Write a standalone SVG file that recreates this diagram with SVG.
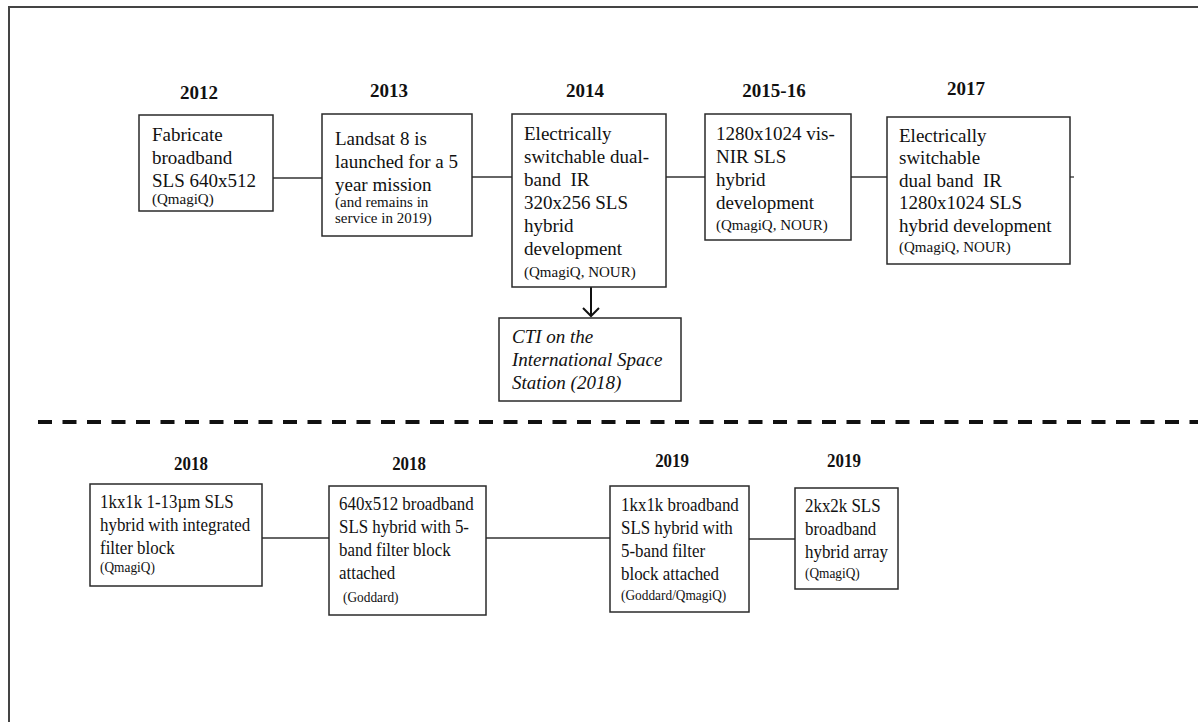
<svg xmlns="http://www.w3.org/2000/svg" width="1198" height="722" viewBox="0 0 1198 722">
<defs>
<style>
.box{fill:#fff;stroke:#2a2a2a;stroke-width:1.5}
.t{font-family:"Liberation Serif","Times New Roman",serif;font-size:19px;fill:#111}
.s{font-family:"Liberation Serif","Times New Roman",serif;font-size:15px;fill:#111}
.i{font-family:"Liberation Serif","Times New Roman",serif;font-size:19px;font-style:italic;fill:#111}
.y{font-family:"Liberation Serif","Times New Roman",serif;font-size:19px;font-weight:bold;fill:#111;text-anchor:middle}
.c{stroke:#333;stroke-width:1.3;fill:none}
</style>
<marker id="arr" markerWidth="20" markerHeight="20" refX="10" refY="10" orient="auto" markerUnits="userSpaceOnUse">
<polyline points="2,2 10,10 2,18" fill="none" stroke="#111" stroke-width="2"/>
</marker>
</defs>
<rect width="1198" height="722" fill="#fff"/>
<path d="M9 722 V7 H1198" fill="none" stroke="#444" stroke-width="2"/>
<line x1="38" y1="422" x2="1198" y2="422" stroke="#111" stroke-width="4" stroke-dasharray="14 10.5"/>
<g id="connectors">
<line class="c" x1="273" y1="178" x2="322" y2="178"/>
<line class="c" x1="472" y1="177" x2="512" y2="177"/>
<line class="c" x1="666" y1="177" x2="705" y2="177"/>
<line class="c" x1="851" y1="177" x2="887" y2="177"/>
<line class="c" x1="1070" y1="177" x2="1074" y2="177"/>
<line x1="591" y1="287" x2="591" y2="316" stroke="#111" stroke-width="2" marker-end="url(#arr)"/>
<line class="c" x1="262" y1="538" x2="329" y2="538"/>
<line class="c" x1="486" y1="538" x2="610" y2="538"/>
<line class="c" x1="749" y1="539" x2="795" y2="539"/>
</g>
<g id="n2012">
<text class="y" x="199" y="99">2012</text>
<rect class="box" x="139" y="115" width="134" height="96"/>
<text class="t" x="152" y="141">Fabricate</text>
<text class="t" x="152" y="164">broadband</text>
<text class="t" x="152" y="187">SLS 640x512</text>
<text class="s" x="152" y="204">(QmagiQ)</text>
</g>
<g id="n2013">
<text class="y" x="389" y="97">2013</text>
<rect class="box" x="322" y="114" width="150" height="122"/>
<text class="t" x="335" y="145">Landsat 8 is</text>
<text class="t" x="335" y="168">launched for a 5</text>
<text class="t" x="335" y="191">year mission</text>
<text class="s" x="335" y="207">(and remains in</text>
<text class="s" x="335" y="223">service in 2019)</text>
</g>
<g id="n2014">
<text class="y" x="585" y="97">2014</text>
<rect class="box" x="512" y="114" width="154" height="173"/>
<text class="t" x="524" y="140">Electrically</text>
<text class="t" x="524" y="163">switchable dual-</text>
<text class="t" x="524" y="186" xml:space="preserve">band  IR</text>
<text class="t" x="524" y="209">320x256 SLS</text>
<text class="t" x="524" y="232">hybrid</text>
<text class="t" x="524" y="255">development</text>
<text class="s" x="524" y="277">(QmagiQ, NOUR)</text>
</g>
<g id="n2015">
<text class="y" x="774" y="97">2015-16</text>
<rect class="box" x="705" y="114" width="146" height="126"/>
<text class="t" x="716" y="140">1280x1024 vis-</text>
<text class="t" x="716" y="163">NIR SLS</text>
<text class="t" x="716" y="186">hybrid</text>
<text class="t" x="716" y="209">development</text>
<text class="s" x="716" y="230">(QmagiQ, NOUR)</text>
</g>
<g id="n2017">
<text class="y" x="966" y="95">2017</text>
<rect class="box" x="887" y="117" width="183" height="147"/>
<text class="t" x="899" y="142">Electrically</text>
<text class="t" x="899" y="164">switchable</text>
<text class="t" x="899" y="187" xml:space="preserve">dual band  IR</text>
<text class="t" x="899" y="209">1280x1024 SLS</text>
<text class="t" x="899" y="232">hybrid development</text>
<text class="s" x="899" y="252">(QmagiQ, NOUR)</text>
</g>
<g id="nCTI">
<rect class="box" x="499" y="318" width="182" height="83"/>
<text class="i" x="512" y="343">CTI on the</text>
<text class="i" x="512" y="366">International Space</text>
<text class="i" x="512" y="389">Station (2018)</text>
</g>
<g id="n2018a">
<rect class="box" x="90" y="484" width="172" height="102"/>
<g transform="scale(0.89 1)">
<text class="y" x="214.6" y="470">2018</text>
<text class="t" x="112.4" y="508">1kx1k 1-13µm SLS</text>
<text class="t" x="112.4" y="531">hybrid with integrated</text>
<text class="t" x="112.4" y="554">filter block</text>
<text class="s" x="112.4" y="572">(QmagiQ)</text>
</g>
</g>
<g id="n2018b">
<rect class="box" x="329" y="486" width="157" height="129"/>
<g transform="scale(0.89 1)">
<text class="y" x="459.6" y="470">2018</text>
<text class="t" x="380.9" y="510">640x512 broadband</text>
<text class="t" x="380.9" y="533">SLS hybrid with 5-</text>
<text class="t" x="380.9" y="556">band filter block</text>
<text class="t" x="380.9" y="579">attached</text>
<text class="s" x="385.4" y="602">(Goddard)</text>
</g>
</g>
<g id="n2019a">
<rect class="box" x="610" y="486" width="139" height="126"/>
<g transform="scale(0.89 1)">
<text class="y" x="755.1" y="467">2019</text>
<text class="t" x="697.8" y="511">1kx1k broadband</text>
<text class="t" x="697.8" y="534">SLS hybrid with</text>
<text class="t" x="697.8" y="557">5-band filter</text>
<text class="t" x="697.8" y="580">block attached</text>
<text class="s" x="697.8" y="600">(Goddard/QmagiQ)</text>
</g>
</g>
<g id="n2019b">
<rect class="box" x="795" y="488" width="103" height="101"/>
<g transform="scale(0.89 1)">
<text class="y" x="948.3" y="467">2019</text>
<text class="t" x="904.5" y="512">2kx2k SLS</text>
<text class="t" x="904.5" y="535">broadband</text>
<text class="t" x="904.5" y="558">hybrid array</text>
<text class="s" x="904.5" y="578">(QmagiQ)</text>
</g>
</g>
</svg>
